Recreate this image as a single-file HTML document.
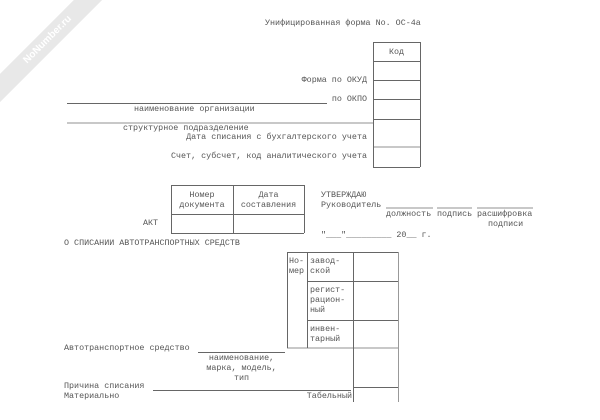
<!DOCTYPE html>
<html><head><meta charset="utf-8"><style>
html,body{margin:0;padding:0;background:#fff;}
body{width:600px;height:420px;position:relative;overflow:hidden;font-family:"Liberation Mono","DejaVu Sans Mono",monospace;font-size:8.4px;color:#555;}
.t{position:absolute;line-height:10px;white-space:pre;}
.r{text-align:right;}
.c{text-align:center;}
.h{position:absolute;height:0;border-top:1px solid #666;}
.g{position:absolute;height:0;border-top:2px solid #c8c8c8;}
.v{position:absolute;width:0;border-left:1px solid #666;}
</style></head><body>
<div style="position:absolute;left:-32px;top:30px;width:160px;height:20px;background:#e8e8e8;transform:rotate(-45deg);color:#fff;font:bold 10px 'Liberation Sans',sans-serif;line-height:20px;text-align:center;">NoNumber.ru</div>

<div class="t" style="left:265px;top:18px;">Унифицированная форма No. ОС-4а</div>

<div class="h" style="left:373px;top:42px;width:47px;"></div>
<div class="h" style="left:373px;top:61px;width:47px;"></div>
<div class="h" style="left:373px;top:80px;width:47px;"></div>
<div class="h" style="left:373px;top:99px;width:47px;"></div>
<div class="h" style="left:373px;top:119px;width:47px;"></div>
<div class="g" style="left:373px;top:146px;width:47px;"></div>
<div class="h" style="left:373px;top:167px;width:47px;"></div>
<div class="v" style="left:373px;top:42px;height:125px;"></div>
<div class="v" style="left:420px;top:42px;height:125px;"></div>
<div class="t c" style="left:373px;top:47px;width:47px;">Код</div>

<div class="t r" style="left:150px;top:75px;width:217px;">Форма по ОКУД</div>
<div class="t r" style="left:150px;top:94px;width:217px;">по ОКПО</div>
<div class="h" style="left:67px;top:103px;width:260px;"></div>
<div class="t" style="left:134px;top:104px;">наименование организации</div>
<div class="g" style="left:67px;top:122px;width:306px;"></div>
<div class="t" style="left:123px;top:123px;">структурное подразделение</div>
<div class="t r" style="left:100px;top:132px;width:267px;">Дата списания с бухгалтерского учета</div>
<div class="t r" style="left:100px;top:151px;width:267px;">Счет, субсчет, код аналитического учета</div>

<div class="h" style="left:171px;top:185px;width:133px;"></div>
<div class="h" style="left:171px;top:214px;width:133px;"></div>
<div class="h" style="left:171px;top:233px;width:133px;"></div>
<div class="v" style="left:171px;top:185px;height:48px;"></div>
<div class="v" style="left:233px;top:185px;height:48px;"></div>
<div class="v" style="left:304px;top:185px;height:48px;"></div>
<div class="t c" style="left:171px;top:190px;width:62px;">Номер
документа</div>
<div class="t c" style="left:233px;top:190px;width:71px;">Дата
составления</div>
<div class="t" style="left:143px;top:218px;">АКТ</div>

<div class="t" style="left:321px;top:190px;">УТВЕРЖДАЮ
Руководитель</div>
<div class="g" style="left:386px;top:207px;width:47px;"></div>
<div class="g" style="left:437px;top:207px;width:35px;"></div>
<div class="g" style="left:477px;top:207px;width:56px;"></div>
<div class="t" style="left:386px;top:209px;">должность</div>
<div class="t" style="left:437px;top:209px;">подпись</div>
<div class="t" style="left:477px;top:209px;">расшифровка</div>
<div class="t" style="left:488px;top:219px;">подписи</div>
<div class="t" style="left:321px;top:230px;">"___"_________ 20__ г.</div>

<div class="t" style="left:64px;top:238px;">О СПИСАНИИ АВТОТРАНСПОРТНЫХ СРЕДСТВ</div>

<div class="h" style="left:287px;top:252px;width:111px;"></div>
<div class="h" style="left:307px;top:281px;width:91px;"></div>
<div class="h" style="left:307px;top:320px;width:91px;"></div>
<div class="g" style="left:287px;top:347px;width:111px;"></div>
<div class="h" style="left:353px;top:387px;width:45px;"></div>
<div class="v" style="left:287px;top:252px;height:96px;"></div>
<div class="v" style="left:307px;top:252px;height:96px;"></div>
<div class="v" style="left:353px;top:252px;height:150px;"></div>
<div class="v" style="left:398px;top:252px;height:150px;border-left-color:#999;"></div>
<div class="t" style="left:289px;top:256px;">Но-
мер</div>
<div class="t" style="left:310px;top:256px;">завод-
ской</div>
<div class="t" style="left:310px;top:285px;">регист-
рацион-
ный</div>
<div class="t" style="left:310px;top:324px;">инвен-
тарный</div>

<div class="t" style="left:64px;top:343px;">Автотранспортное средство</div>
<div class="h" style="left:198px;top:352px;width:87px;"></div>
<div class="t c" style="left:198px;top:353px;width:87px;">наименование,
марка, модель,
тип</div>
<div class="t" style="left:64px;top:381px;">Причина списания</div>
<div class="h" style="left:153px;top:390px;width:198px;"></div>
<div class="t" style="left:64px;top:391px;">Материально</div>
<div class="t r" style="left:250px;top:391px;width:102px;">Табельный</div>
</body></html>
